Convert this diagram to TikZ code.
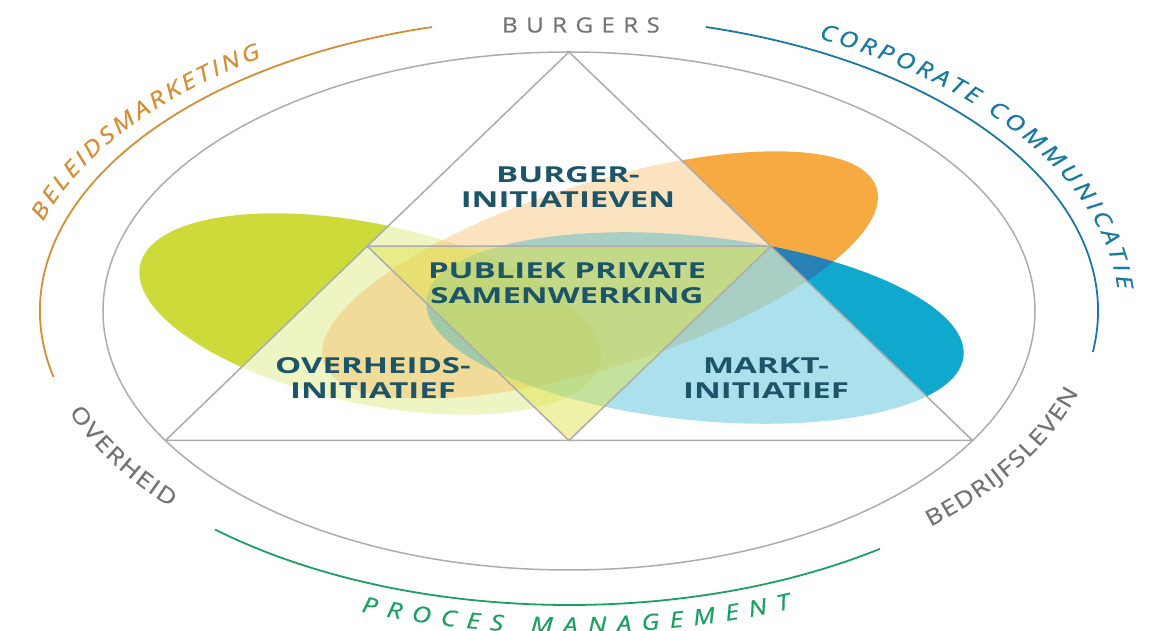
\documentclass[tikz,border=0pt]{standalone}
\usepackage{fontspec}
\setmainfont{Open Sans}
\newfontfamily\boxfont[FakeStretch=1.5]{Open Sans}
\newfontfamily\rimfont[FakeStretch=1.15,FakeBold=0.6]{Open Sans}
\newfontfamily\arcfont[FakeStretch=1.2,FakeBold=0.6]{Open Sans}
\usetikzlibrary{calc,decorations.text}

\definecolor{limefill}{RGB}{204,219,58}
\definecolor{orangefill}{RGB}{246,170,65}
\definecolor{cyanfill}{RGB}{16,168,204}
\definecolor{overlapblue}{RGB}{40,128,180}
\definecolor{pppfill}{RGB}{224,228,78}
\definecolor{linegray}{RGB}{172,172,172}
\definecolor{labelteal}{RGB}{28,84,104}
\definecolor{namegray}{RGB}{115,115,115}
\definecolor{orangeline}{RGB}{214,142,52}
\definecolor{blueline}{RGB}{24,122,160}
\definecolor{greenline}{RGB}{28,160,98}

\tikzset{
    limeshape/.style={shift={(-199,-3)},rotate=-12},
    orangeshape/.style={shift={(31,36)},rotate=17.5},
    cyanshape/.style={shift={(126,-17)},rotate=-6},
    grayline/.style={draw=linegray,line width=1.5},
    boxlabel/.style={font=\boxfont\bfseries\fontsize{22}{25}\selectfont,text=labelteal,align=center},
    namelabel/.style={font=\rimfont\fontsize{21}{21}\selectfont,text=namegray}
}

\begin{document}
\begin{tikzpicture}[x=1pt,y=1pt]
    \useasboundingbox (-569,-320) rectangle (583,311);

    \coordinate (apex) at (90:466 and 259);
    \coordinate (ovh) at (210:466 and 259);
    \coordinate (bdr) at (330:466 and 259);
    \coordinate (pl) at ($(apex)!0.5!(ovh)$);
    \coordinate (pr) at ($(apex)!0.5!(bdr)$);
    \coordinate (pb) at ($(ovh)!0.5!(bdr)$);

    % blobs
    \fill[limefill,limeshape] (0,0) ellipse [x radius=235, y radius=90];
    \fill[orangefill,orangeshape] (0,0) ellipse [x radius=290, y radius=92];
    \fill[cyanfill,cyanshape] (0,0) ellipse [x radius=270, y radius=92];
    \begin{scope}
        \clip[orangeshape] (0,0) ellipse [x radius=290, y radius=92];
        \fill[overlapblue,cyanshape] (0,0) ellipse [x radius=270, y radius=92];
    \end{scope}

    \fill[white] (apex) -- (ovh) -- (bdr) -- cycle;
    \begin{scope}
        \clip (apex) -- (ovh) -- (bdr) -- cycle;
        \fill[limefill,fill opacity=0.3,limeshape] (0,0) ellipse [x radius=235, y radius=90];
        \fill[orangefill,fill opacity=0.33,orangeshape] (0,0) ellipse [x radius=290, y radius=92];
        \fill[cyanfill,fill opacity=0.35,cyanshape] (0,0) ellipse [x radius=270, y radius=92];
        \fill[pppfill,fill opacity=0.5] (pl) -- (pr) -- (pb) -- cycle;
    \end{scope}

    \draw[grayline] (0,0) ellipse [x radius=466, y radius=259];
    \draw[grayline] (apex) -- (ovh) -- (bdr) -- cycle;
    \draw[grayline] (pl) -- (pr) -- (pb) -- cycle;

    \foreach \a/\b/\c in {105/193/orangeline, 75/-8/blueline, 228/306/greenline}
    {
        \draw[\c,line width=1.8] (\a:529 and 294) arc [start angle=\a, end angle=\b, x radius=529, y radius=294];
    }

    \node[boxlabel] (burgerinit) at (-1,124) {BURGER-\\INITIATIEVEN};
    \node[boxlabel] (pps) at (-2,28) {PUBLIEK PRIVATE\\SAMENWERKING};
    \node[boxlabel] (overheidinit) at (-196,-67) {OVERHEIDS-\\INITIATIEF};
    \node[boxlabel] (marktinit) at (197,-67) {MARKT-\\INITIATIEF};

    \node[namelabel] (burgers) at (12,286) {\addfontfeature{LetterSpace=40}BURGERS};

    \path[decorate,decoration={text along path,text align=fit to path,
        text={|\arcfont\fontsize{22}{22}\selectfont\color{namegray}|OVERHEID}}]
        (200:532 and 296) arc [start angle=200, end angle=221.5, x radius=532, y radius=296];
    \path[decorate,decoration={text along path,text align=fit to path,
        text={|\arcfont\fontsize{22}{22}\selectfont\color{namegray}|BEDRIJFSLEVEN}}]
        (-47:530 and 295) arc [start angle=-47, end angle=-16, x radius=530, y radius=295];

    \path[decorate,decoration={text along path,text align=fit to path,
        text={|\arcfont\itshape\fontsize{22}{22}\selectfont\color{orangeline}|BELEIDSMARKETING}}]
        (163:550 and 306) arc [start angle=163, end angle=124, x radius=550, y radius=306];
    \path[decorate,decoration={text along path,text align=fit to path,
        text={|\arcfont\itshape\fontsize{22}{22}\selectfont\color{blueline}|CORPORATE COMMUNICATIE}}]
        (63:550 and 306) arc [start angle=63, end angle=4, x radius=550, y radius=306];
    \path[decorate,decoration={text along path,text align=fit to path,
        text={|\arcfont\itshape\fontsize{22}{22}\selectfont\color{greenline}|PROCES MANAGEMENT}}]
        (249:580 and 322) arc [start angle=249, end angle=292.5, x radius=580, y radius=322];
\end{tikzpicture}
\end{document}
